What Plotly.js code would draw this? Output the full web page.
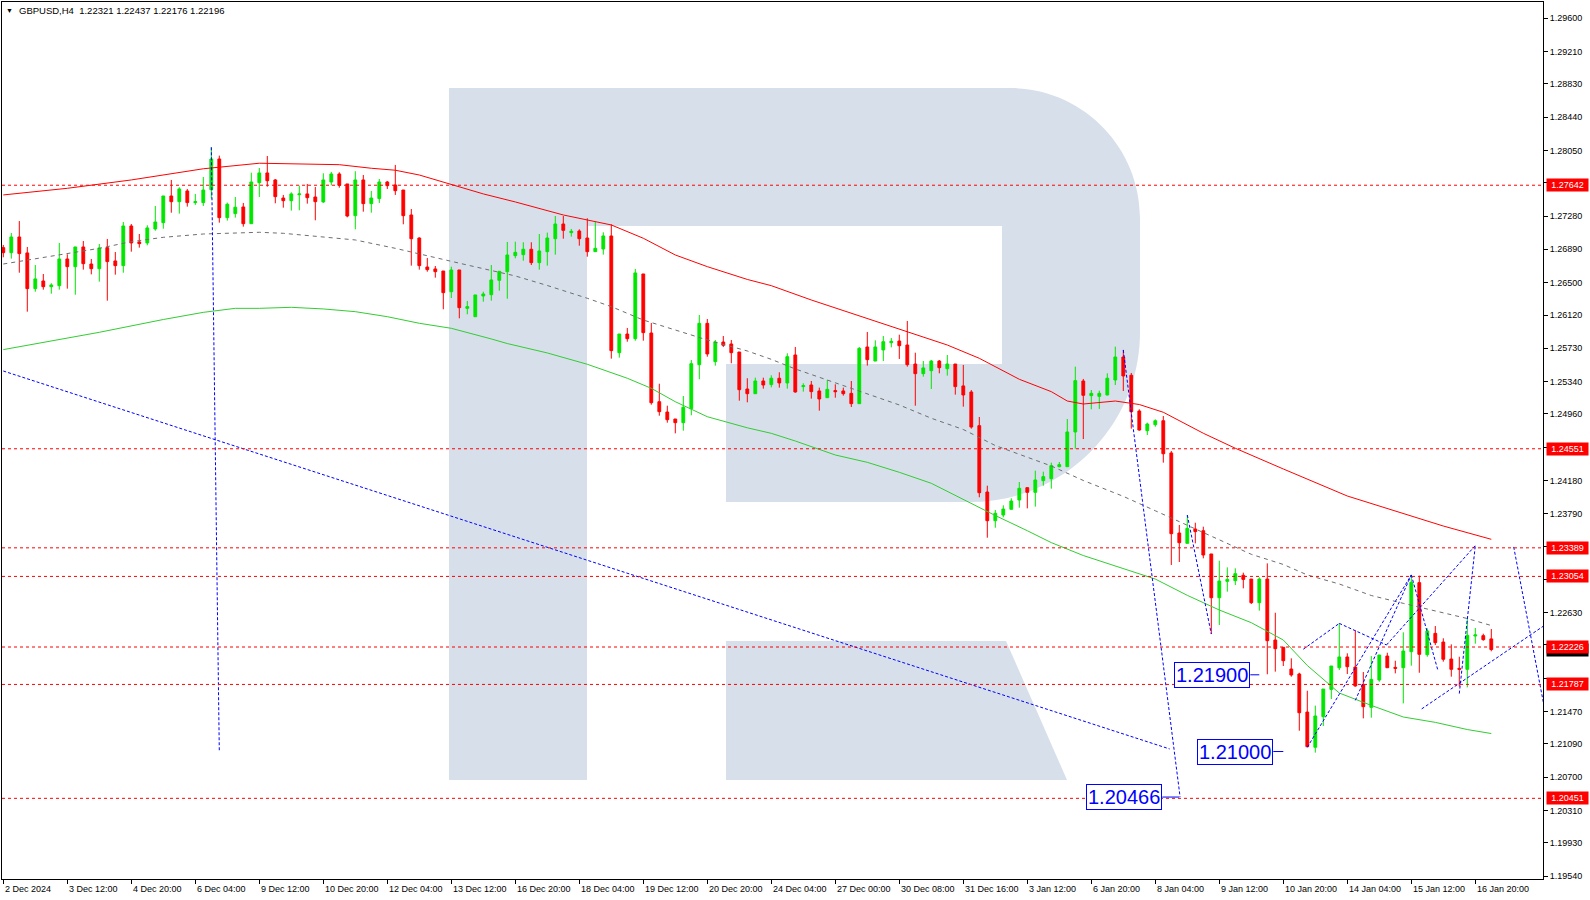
<!DOCTYPE html>
<html><head><meta charset="utf-8">
<script src="https://cdn.plot.ly/plotly-3.0.1.min.js"></script>
<style>html,body{margin:0;padding:0;background:#fff}#chart{width:1590px;height:900px}</style>
</head><body><div id="chart"></div>
<script>
const symbolTitle = "GBPUSD,H4";
const lastQuote = ["1.22321","1.22437","1.22176","1.22196"];

const open = [1.26910,1.26851,1.27035,1.26848,1.26429,1.26519,1.26452,1.26464,1.26777,1.26687,
1.26918,1.26718,1.26663,1.26910,1.26754,1.26699,1.27164,1.26977,1.26965,1.27129,
1.27203,1.27516,1.27449,1.27575,1.27438,1.27438,1.27590,1.27950,1.27262,1.27309,
1.27387,1.27191,1.27672,1.27786,1.27704,1.27492,1.27461,1.27531,1.27540,1.27504,
1.27446,1.27680,1.27774,1.27657,1.27285,1.27704,1.27426,1.27485,1.27680,1.27645,
1.27586,1.27293,1.27023,1.26683,1.26660,1.26636,1.26393,1.26648,1.26198,1.26100,
1.26343,1.26358,1.26527,1.26628,1.26816,1.26828,1.26891,1.26734,1.26863,1.27015,
1.27187,1.27086,1.27105,1.27023,1.26863,1.26894,1.27047,1.25678,1.25897,1.25842,
1.26601,1.25909,1.25103,1.24982,1.24900,1.24857,1.25021,1.25537,1.26022,1.25573,
1.25803,1.25780,1.25686,1.25252,1.25197,1.25346,1.25304,1.25378,1.25323,1.25651,
1.25280,1.25299,1.25229,1.25150,1.25233,1.25229,1.25201,1.25080,1.25745,1.25580,
1.25710,1.25795,1.25815,1.25768,1.25545,1.25432,1.25467,1.25580,1.25490,1.25545,
1.25288,1.25217,1.24822,1.24044,1.23707,1.23774,1.23841,1.23950,1.24095,1.24040,
1.24177,1.24200,1.24341,1.24341,1.24748,1.25346,1.25174,1.25166,1.25182,1.25358,
1.25627,1.25413,1.24994,1.24763,1.24833,1.24880,1.24502,1.23563,1.23442,1.23610,
1.23590,1.23317,1.22804,1.22996,1.23004,1.23067,1.23023,1.22746,1.23023,1.22308,
1.22222,1.21968,1.21909,1.21463,1.21050,1.21409,1.21729,1.21983,1.22109,1.21991,
1.21784,1.21518,1.21839,1.22120,1.21987,1.21983,1.22171,1.22981,1.22136,1.22386,
1.22284,1.22085,1.21976,1.21964,1.22355,1.22359,1.22321];

const high = [1.26941,1.27082,1.27222,1.26918,1.26706,1.26601,1.26492,1.26965,1.26832,1.26918,
1.26988,1.26777,1.26953,1.27012,1.26859,1.27211,1.27187,1.27070,1.27172,1.27399,
1.27516,1.27704,1.27618,1.27598,1.27540,1.27739,1.28087,1.27989,1.27438,1.27504,
1.27434,1.27789,1.27844,1.27985,1.27715,1.27528,1.27559,1.27637,1.27657,1.27621,
1.27782,1.27798,1.27794,1.27657,1.27806,1.27762,1.27575,1.27715,1.27692,1.27880,
1.27586,1.27363,1.27031,1.26789,1.26695,1.26636,1.26687,1.26648,1.26284,1.26355,
1.26393,1.26706,1.26632,1.26977,1.26980,1.26973,1.26973,1.27070,1.27086,1.27281,
1.27281,1.27129,1.27125,1.27254,1.27211,1.27090,1.27184,1.25897,1.25968,1.26660,
1.26601,1.26026,1.25314,1.25056,1.24900,1.25170,1.25592,1.26120,1.26073,1.25827,
1.25874,1.25827,1.25686,1.25378,1.25385,1.25385,1.25413,1.25448,1.25671,1.25745,
1.25319,1.25346,1.25268,1.25358,1.25307,1.25268,1.25346,1.25745,1.25921,1.25823,
1.25874,1.25850,1.25889,1.26050,1.25678,1.25580,1.25592,1.25592,1.25651,1.25545,
1.25534,1.25240,1.24924,1.24118,1.23833,1.23888,1.23970,1.24161,1.24095,1.24294,
1.24282,1.24388,1.24396,1.24900,1.25514,1.25370,1.25240,1.25232,1.25436,1.25749,
1.25710,1.25440,1.25014,1.24857,1.24896,1.24935,1.24525,1.23657,1.23774,1.23684,
1.23637,1.23317,1.23238,1.23160,1.23149,1.23098,1.23023,1.23043,1.23207,1.22628,
1.22222,1.22093,1.21924,1.21713,1.21538,1.21733,1.22003,1.22503,1.22152,1.22421,
1.21933,1.22120,1.22132,1.22159,1.22065,1.22398,1.23071,1.23063,1.22445,1.22472,
1.22328,1.22257,1.22112,1.22562,1.22449,1.22382,1.22437];

const low = [1.26797,1.26781,1.26616,1.26159,1.26393,1.26417,1.26370,1.26417,1.26429,1.26358,
1.26652,1.26597,1.26511,1.26288,1.26593,1.26616,1.26863,1.26910,1.26938,1.27109,
1.27132,1.27320,1.27309,1.27391,1.27411,1.27399,1.27485,1.27203,1.27227,1.27262,
1.27156,1.27191,1.27504,1.27625,1.27430,1.27379,1.27344,1.27348,1.27426,1.27231,
1.27434,1.27641,1.27613,1.27266,1.27125,1.27332,1.27320,1.27434,1.27598,1.27528,
1.27184,1.26699,1.26652,1.26628,1.26558,1.26187,1.26319,1.26081,1.26128,1.26100,
1.26276,1.26288,1.26405,1.26311,1.26785,1.26757,1.26706,1.26652,1.26699,1.26828,
1.27015,1.27039,1.26933,1.26804,1.26863,1.26828,1.25608,1.25620,1.25807,1.25819,
1.25819,1.25068,1.24939,1.24857,1.24732,1.24763,1.24944,1.25366,1.25631,1.25526,
1.25745,1.25554,1.25115,1.25096,1.25197,1.25256,1.25272,1.25268,1.25256,1.25209,
1.25221,1.25139,1.24998,1.25150,1.25150,1.25174,1.25041,1.25080,1.25526,1.25580,
1.25580,1.25741,1.25604,1.25514,1.25056,1.25397,1.25252,1.25436,1.25409,1.25186,
1.25045,1.24787,1.23982,1.23508,1.23625,1.23747,1.23841,1.23860,1.23852,1.23872,
1.24118,1.24083,1.24334,1.24341,1.24552,1.24665,1.25014,1.25018,1.25178,1.25299,
1.25229,1.24787,1.24763,1.24712,1.24810,1.24388,1.23188,1.23223,1.23442,1.23442,
1.23266,1.22378,1.22484,1.22875,1.22953,1.22914,1.22730,1.22652,1.21906,1.21937,
1.22003,1.21878,1.21244,1.21050,1.20987,1.21299,1.21616,1.21956,1.21909,1.21761,
1.21389,1.21397,1.21819,1.21983,1.21917,1.21565,1.22007,1.21924,1.22112,1.22249,
1.22054,1.21878,1.21761,1.21753,1.22265,1.22300,1.22176];

const close = [1.26851,1.27035,1.26840,1.26429,1.26543,1.26452,1.26472,1.26777,1.26687,1.26918,
1.26722,1.26663,1.26906,1.26746,1.26699,1.27164,1.26965,1.26957,1.27141,1.27211,
1.27516,1.27449,1.27598,1.27438,1.27449,1.27586,1.27950,1.27262,1.27419,1.27384,
1.27191,1.27680,1.27786,1.27695,1.27508,1.27461,1.27540,1.27540,1.27496,1.27449,
1.27704,1.27774,1.27641,1.27281,1.27704,1.27426,1.27492,1.27680,1.27637,1.27578,
1.27285,1.27015,1.26699,1.26652,1.26628,1.26382,1.26648,1.26206,1.26218,1.26355,
1.26366,1.26531,1.26632,1.26824,1.26855,1.26891,1.26734,1.26871,1.27023,1.27187,
1.27113,1.27102,1.27015,1.26863,1.26902,1.27047,1.25702,1.25897,1.25842,1.26613,
1.25913,1.25091,1.24986,1.24892,1.24857,1.25037,1.25549,1.26022,1.25663,1.25803,
1.25765,1.25678,1.25244,1.25197,1.25346,1.25299,1.25378,1.25323,1.25631,1.25217,
1.25291,1.25221,1.25135,1.25248,1.25221,1.25197,1.25080,1.25729,1.25596,1.25745,
1.25807,1.25811,1.25760,1.25537,1.25432,1.25499,1.25580,1.25502,1.25545,1.25280,
1.25182,1.24806,1.24036,1.23707,1.23794,1.23844,1.23938,1.24087,1.24040,1.24185,
1.24224,1.24353,1.24365,1.24748,1.25350,1.25178,1.25201,1.25201,1.25378,1.25627,
1.25405,1.24986,1.24771,1.24841,1.24880,1.24493,1.23555,1.23449,1.23618,1.23579,
1.23305,1.22804,1.23000,1.23019,1.23086,1.23019,1.22746,1.23023,1.22300,1.22206,
1.22065,1.21898,1.21455,1.21057,1.21417,1.21733,1.22003,1.22109,1.21995,1.21769,
1.21526,1.21846,1.22132,1.21983,1.21976,1.22179,1.22985,1.22140,1.22414,1.22277,
1.22082,1.21964,1.21964,1.22363,1.22367,1.22312,1.22196];

const xTickLabels = ["2 Dec 2024","3 Dec 12:00","4 Dec 20:00","6 Dec 04:00","9 Dec 12:00","10 Dec 20:00",
"12 Dec 04:00","13 Dec 12:00","16 Dec 20:00","18 Dec 04:00","19 Dec 12:00","20 Dec 20:00","24 Dec 04:00",
"27 Dec 00:00","30 Dec 08:00","31 Dec 16:00","3 Jan 12:00","6 Jan 20:00","8 Jan 04:00","9 Jan 12:00",
"10 Jan 20:00","14 Jan 04:00","15 Jan 12:00","16 Jan 20:00"];
const barsPerLabel = 8;

const yTickLabels = ["1.29600","1.29210","1.28830","1.28440","1.28050","1.27670","1.27280","1.26890","1.26500",
"1.26120","1.25730","1.25340","1.24960","1.24570","1.24180","1.23790","1.23410","1.23020","1.22630","1.22250",
"1.21860","1.21470","1.21090","1.20700","1.20310","1.19930","1.19540"];

const levelPrices = [1.27642,1.24551,1.23389,1.23054,1.22226,1.21787,1.20451];
const bidPrice = 1.22196;

// moving averages (bar index, value)
const redMaBars = [0,8,16,25,32,38,42,46,49,52,56,60,64,70,76,80,84,88,93,96,101,108,113,118,122,127,131,133,135,139,142,145,150,154,160,168,180,186];
const redMaVals = [1.27528,1.27606,1.27704,1.27835,1.27900,1.27888,1.27883,1.27841,1.27818,1.27762,1.27653,1.27540,1.27446,1.27293,1.27176,1.27020,1.26824,1.26687,1.26537,1.26464,1.26296,1.26081,1.25924,1.25768,1.25612,1.25366,1.25221,1.25111,1.25076,1.25111,1.25070,1.24979,1.24733,1.24557,1.24314,1.23997,1.23645,1.23489];
const grayMaBars = [0,4,8,12,16,20,25,32,35,40,44,49,54,58,64,68,73,76,80,84,88,93,96,99,104,108,112,116,120,124,128,131,135,140,144,148,152,156,160,163,167,171,175,179,183,186];
const grayMaVals = [1.26718,1.26777,1.26836,1.26902,1.26980,1.27031,1.27070,1.27090,1.27078,1.27039,1.27000,1.26902,1.26797,1.26706,1.26578,1.26466,1.26316,1.26218,1.26061,1.25944,1.25827,1.25698,1.25600,1.25487,1.25323,1.25190,1.25065,1.24909,1.24777,1.24589,1.24449,1.24349,1.24179,1.23993,1.23824,1.23655,1.23481,1.23313,1.23194,1.23071,1.22965,1.22830,1.22738,1.22648,1.22560,1.22478];
const greenMaBars = [0,12,20,25,29,32,36,40,44,48,52,56,61,63,68,73,78,81,84,88,93,96,99,104,108,112,116,120,124,128,131,135,140,144,148,152,156,160,163,167,171,175,179,183,186];
const greenMaVals = [1.25714,1.25917,1.26067,1.26151,1.26198,1.26198,1.26210,1.26191,1.26159,1.26100,1.26023,1.25964,1.25839,1.25785,1.25675,1.25542,1.25378,1.25260,1.25103,1.24927,1.24797,1.24732,1.24642,1.24478,1.24392,1.24275,1.24146,1.23956,1.23768,1.23590,1.23450,1.23299,1.23146,1.23023,1.22832,1.22660,1.22511,1.22308,1.22009,1.21686,1.21541,1.21405,1.21342,1.21258,1.21211];

// drawn wave / trend lines: [bar, price] points
const waveLines = [
  [[26,1.28087],[27,1.21000]],
  [[0,1.25463],[145.8,1.21030]],
  [[140,1.25710],[147.1,1.20466]],
  [[148,1.23774],[151,1.22378]],
  [[162.5,1.22200],[167,1.22503]],
  [[167,1.22503],[172.9,1.22250]],
  [[163,1.21050],[176,1.23071]],
  [[169,1.21600],[176,1.23071]],
  [[172.9,1.22250],[184,1.23416]],
  [[182,1.21680],[184,1.23416]],
  [[176,1.23071],[179.3,1.21960]],
  [[177.3,1.21500],[192.5,1.22470]],
  [[188.8,1.23400],[192.5,1.21580]]
];
const targetLabels = ["1.21900","1.21000","1.20466"];
const targetBars = [157,160,147];

const bars = open.map((_, i) => i);
const BLUE = '#0000ff';

const traces = [];
traces.push({type:'scatter', mode:'lines', x:greenMaBars, y:greenMaVals, line:{color:'#32cd32', width:1}, hoverinfo:'skip'});
traces.push({type:'scatter', mode:'lines', x:grayMaBars, y:grayMaVals, line:{color:'#6e6e6e', width:1, dash:'4px,4px'}, hoverinfo:'skip'});
traces.push({type:'scatter', mode:'lines', x:redMaBars, y:redMaVals, line:{color:'#ff0000', width:1}, hoverinfo:'skip'});
traces.push({type:'candlestick', x:bars, open:open, high:high, low:low, close:close,
  increasing:{line:{color:'#00e600', width:1}, fillcolor:'#00e600'},
  decreasing:{line:{color:'#ff0000', width:1}, fillcolor:'#ff0000'},
  whiskerwidth:0, hoverinfo:'skip'});
waveLines.forEach(seg => {
  traces.push({type:'scatter', mode:'lines', x:seg.map(p=>p[0]), y:seg.map(p=>p[1]),
    line:{color:BLUE, width:1, dash:'3px,2px'}, hoverinfo:'skip'});
});

// plot area in pixels: x 2..1543, y 2..879
function P(x,y){ return ((x-2)/1541).toFixed(5)+','+(1-(y-2)/877).toFixed(5); }
const rPath = `M${P(449,88)} L${P(1010,88)} C${P(1081.8,88)} ${P(1140,146.2)} ${P(1140,218)} L${P(1140,332)} C${P(1140,425.9)} ${P(1063.9,502)} ${P(970,502)} L${P(726,502)} L${P(726,364)} L${P(1002,364)} L${P(1002,226)} L${P(587,226)} L${P(587,780)} L${P(449,780)} Z`;
const legPath = `M${P(726,641)} L${P(1006,641)} L${P(1067,780)} L${P(726,780)} Z`;

const shapes = [
  {type:'path', xref:'paper', yref:'paper', path:rPath, fillcolor:'#d6dfea', line:{width:0}, layer:'below'},
  {type:'path', xref:'paper', yref:'paper', path:legPath, fillcolor:'#d6dfea', line:{width:0}, layer:'below'}
];
levelPrices.forEach(p => shapes.push({type:'line', xref:'paper', x0:0, x1:1, yref:'y', y0:p, y1:p,
  line:{color:'#ff0000', width:1, dash:'3px,3px'}, layer:'above'}));

// axis labels hidden behind the price boxes are left blank
const hiddenTicks = ["1.27670","1.24570","1.23410","1.23020","1.22250","1.21860"];
const connectorLengths = [-9, -10, -17];

const annotations = [];
annotations.push({xref:'paper', yref:'paper', x:0, y:1, xanchor:'left', yanchor:'middle', xshift:2, yshift:-8,
  text:'▼', showarrow:false, font:{family:'Liberation Sans, Arial', size:7, color:'#000'}});
annotations.push({xref:'paper', yref:'paper', x:0, y:1, xanchor:'left', yanchor:'middle', xshift:15, yshift:-8,
  text: symbolTitle + '\u00a0\u00a0' + lastQuote.join(' '), showarrow:false,
  font:{family:'Liberation Sans, Arial', size:9.5, color:'#000'}});
xTickLabels.forEach((t,k) => annotations.push({xref:'x', yref:'paper', x:k*barsPerLabel, y:0,
  xanchor:'left', yanchor:'top', xshift:0, yshift:-3, text:t, showarrow:false,
  font:{family:'Liberation Sans, Arial', size:9, color:'#000'}}));
annotations.push({xref:'paper', yref:'y', x:1, y:bidPrice, xanchor:'left', yanchor:'middle', xshift:3,
  text:'\u00a0', showarrow:false, bgcolor:'#000000', width:41, height:12, borderpad:0,
  font:{family:'Liberation Sans, Arial', size:9, color:'#fff'}});
levelPrices.forEach(p => annotations.push({xref:'paper', yref:'y', x:1, y:p, xanchor:'left', yanchor:'middle', xshift:3,
  text:p.toFixed(5), showarrow:false, bgcolor:'#ff0000', width:41, height:12, borderpad:0,
  font:{family:'Liberation Sans, Arial', size:9, color:'#fff'}}));
targetLabels.forEach((t,k) => annotations.push({xref:'x', yref:'y', x:targetBars[k], y:parseFloat(t),
  text:t, showarrow:true, arrowhead:0, arrowwidth:1, arrowcolor:BLUE, ax:connectorLengths[k], ay:0, axref:'pixel', ayref:'pixel',
  xanchor:'right', yanchor:'middle', bgcolor:'#ffffff', bordercolor:BLUE, borderwidth:1, borderpad:1,
  font:{family:'Liberation Sans, Arial', size:20, color:BLUE}}));

const layout = {
  width:1590, height:900, margin:{l:2, r:47, t:2, b:21},
  paper_bgcolor:'#ffffff', plot_bgcolor:'#ffffff', showlegend:false, boxgap:0.5,
  xaxis:{range:[-0.1625,192.4625], showgrid:false, zeroline:false, showline:true, mirror:true, linecolor:'#000', linewidth:1,
    ticks:'outside', ticklen:4, tickcolor:'#000', tickvals:xTickLabels.map((_,k)=>k*barsPerLabel), showticklabels:false,
    rangeslider:{visible:false}, fixedrange:true},
  yaxis:{range:[1.19505,1.29791], side:'right', showgrid:false, zeroline:false, showline:true, mirror:true, linecolor:'#000', linewidth:1,
    ticks:'outside', ticklen:4, tickcolor:'#000', tickvals:yTickLabels.map(Number),
    ticktext:yTickLabels.map(t => hiddenTicks.includes(t) ? '' : t),
    tickfont:{family:'Liberation Sans, Arial', size:9, color:'#000'}, fixedrange:true},
  shapes:shapes, annotations:annotations
};
Plotly.newPlot('chart', traces, layout, {displayModeBar:false, staticPlot:true});
</script></body></html>
